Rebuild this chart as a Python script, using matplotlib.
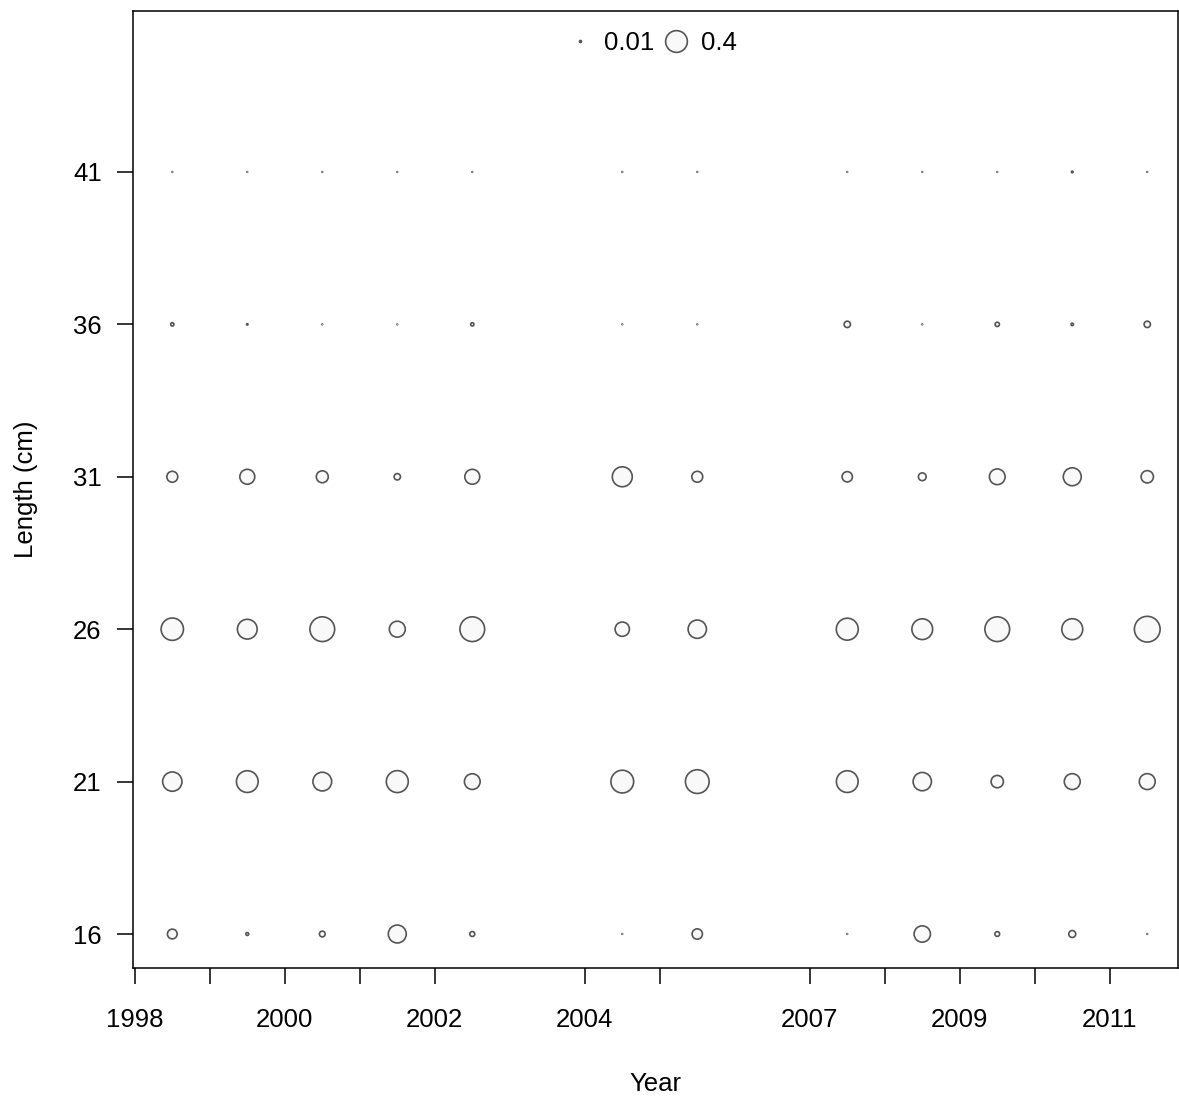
import numpy as np
import matplotlib
matplotlib.use('Agg')
import matplotlib.pyplot as plt
from matplotlib.lines import Line2D

plt.rcParams['font.family'] = ['Liberation Sans', 'DejaVu Sans']

# Sampled years (bubbles drawn at mid-year)
years = [1998, 1999, 2000, 2001, 2002, 2004, 2005, 2007, 2008, 2009, 2010, 2011]
lengths = [16, 21, 26, 31, 36, 41]

# Proportion at length, one list per length bin (same order as years)
prop_16 = [0.095, 0.015, 0.040, 0.281, 0.032, 0.003, 0.105, 0.003, 0.237, 0.030, 0.054, 0.003]
prop_21 = [0.322, 0.400, 0.304, 0.407, 0.221, 0.435, 0.471, 0.400, 0.292, 0.143, 0.226, 0.226]
prop_26 = [0.421, 0.335, 0.509, 0.226, 0.509, 0.187, 0.292, 0.407, 0.367, 0.509, 0.373, 0.548]
prop_31 = [0.116, 0.201, 0.135, 0.047, 0.201, 0.341, 0.116, 0.105, 0.065, 0.221, 0.281, 0.143]
prop_36 = [0.018, 0.007, 0.003, 0.003, 0.018, 0.003, 0.003, 0.047, 0.003, 0.026, 0.012, 0.047]
prop_41 = [0.003, 0.003, 0.003, 0.003, 0.003, 0.003, 0.003, 0.003, 0.003, 0.003, 0.008, 0.003]

legend_vals = [0.01, 0.4]
xtick_years = years
xlabel_years = [1998, 2000, 2002, 2004, 2007, 2009, 2011]

props = [prop_16, prop_21, prop_26, prop_31, prop_36, prop_41]

DPI = 100
LW = 1.2  # circle edge width, points
EDGE = '#555555'
FACE = '#f9f9f9'
FS = 18.5


def bubble_diam(v):
    # bubble radius proportional to sqrt(value); returns marker diameter in points
    outer_px = 37.0 * np.sqrt(np.asarray(v, dtype=float))
    return np.maximum((outer_px - LW * DPI / 72) * 72 / DPI, 0.5)


fig = plt.figure(figsize=(11.79, 10.97), dpi=DPI)
ax = fig.add_axes([133 / 1179, 1 - 968 / 1097, 1045 / 1179, 957 / 1097])

xs = np.array(years) + 0.5
for L, p in zip(lengths, props):
    d = bubble_diam(p)
    ax.scatter(xs, np.full(len(xs), L), s=d ** 2, facecolor=FACE,
               edgecolor=EDGE, linewidths=LW, zorder=3)

ax.set_xlim(1997.976, 2011.91)
ax.set_ylim(14.885, 46.28)

ax.set_xticks(xtick_years)
ax.set_xticklabels([str(y) if y in xlabel_years else '' for y in xtick_years])
ax.set_yticks(lengths)
ax.set_yticklabels([str(v) for v in lengths])

ax.tick_params(axis='both', direction='out', length=11.5, width=1.1,
               labelsize=FS, colors='black')
ax.tick_params(axis='x', pad=17)
ax.tick_params(axis='y', pad=11)
for sp in ax.spines.values():
    sp.set_linewidth(1.1)
    sp.set_color('black')

ax.set_xlabel('Year', fontsize=FS, labelpad=29)
ax.set_ylabel('Length (cm)', fontsize=FS, labelpad=25.5)

# Bubble size legend
handles = [Line2D([], [], linestyle='none', marker='o', markersize=bubble_diam(v),
                  markerfacecolor=FACE, markeredgecolor=EDGE, markeredgewidth=LW)
           for v in legend_vals]
ax.legend(handles, [str(v) for v in legend_vals], loc='center',
          bbox_to_anchor=(0.4975, 0.9665), ncol=2, frameon=False, fontsize=FS,
          handlelength=0.8, handletextpad=0.55, columnspacing=0.45, borderpad=0)

fig.savefig('out.png', dpi=DPI)
